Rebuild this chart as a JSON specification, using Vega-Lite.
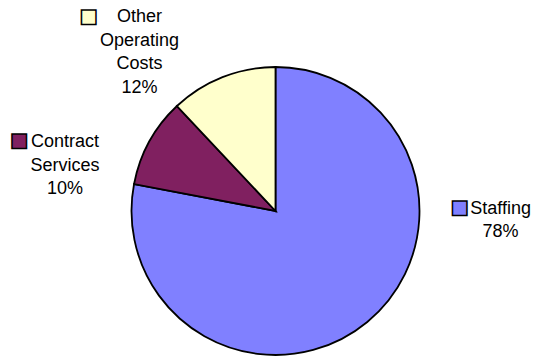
{
  "$schema": "https://vega.github.io/schema/vega-lite/v6.json",
  "width": 551,
  "height": 422,
  "autosize": "none",
  "padding": 0,
  "background": "white",
  "config": {"view": {"stroke": null}},
  "data": {"values": [
    {"category": "Staffing", "pct": 78, "idx": 1, "label": ["Staffing", "78%"]},
    {"category": "Contract Services", "pct": 10, "idx": 2, "label": ["Contract", "Services", "10%"]},
    {"category": "Other Operating Costs", "pct": 12, "idx": 3, "label": ["Other", "Operating", "Costs", "12%"]}
  ]},
  "encoding": {
    "theta": {"field": "pct", "type": "quantitative", "stack": true},
    "order": {"field": "idx", "type": "quantitative"}
  },
  "layer": [
    {
      "mark": {"type": "arc", "outerRadius": 144, "stroke": "black", "strokeWidth": 1.8},
      "encoding": {
        "color": {"field": "category", "type": "nominal", "legend": null,
          "scale": {"domain": ["Staffing", "Contract Services", "Other Operating Costs"], "range": ["#8080FF", "#802060", "#FFFFCC"]}}
      }
    },
    {
      "mark": {"type": "text", "radius": 175, "dx": 113.5, "dy": -137, "font": "Liberation Sans", "fontSize": 18, "lineHeight": 23.5, "align": "center", "baseline": "middle", "color": "black"},
      "encoding": {"text": {"condition": {"test": "datum.category === 'Staffing'", "field": "label"}, "value": ""}}
    },
    {
      "mark": {"type": "text", "radius": 175, "dx": -57.1, "dy": 15.8, "font": "Liberation Sans", "fontSize": 18, "lineHeight": 23.5, "align": "center", "baseline": "middle", "color": "black"},
      "encoding": {"text": {"condition": {"test": "datum.category === 'Contract Services'", "field": "label"}, "value": ""}}
    },
    {
      "mark": {"type": "text", "radius": 175, "dx": -71.6, "dy": -31, "font": "Liberation Sans", "fontSize": 18, "lineHeight": 23.5, "align": "center", "baseline": "middle", "color": "black"},
      "encoding": {"text": {"condition": {"test": "datum.category === 'Other Operating Costs'", "field": "label"}, "value": ""}}
    },
    {
      "mark": {"type": "text", "radius": 175, "dx": 72.5, "dy": -137.8, "font": "Liberation Sans", "fontSize": 30, "align": "center", "baseline": "middle", "fill": "#8080FF", "stroke": "black", "strokeWidth": 1.5},
      "encoding": {"text": {"condition": {"test": "datum.category === 'Staffing'", "value": "■"}, "value": ""}}
    },
    {
      "mark": {"type": "text", "radius": 175, "dx": -103.1, "dy": 14.8, "font": "Liberation Sans", "fontSize": 30, "align": "center", "baseline": "middle", "fill": "#802060", "stroke": "black", "strokeWidth": 1.5},
      "encoding": {"text": {"condition": {"test": "datum.category === 'Contract Services'", "value": "■"}, "value": ""}}
    },
    {
      "mark": {"type": "text", "radius": 175, "dx": -122.6, "dy": -30.8, "font": "Liberation Sans", "fontSize": 30, "align": "center", "baseline": "middle", "fill": "#FFFFCC", "stroke": "black", "strokeWidth": 1.5},
      "encoding": {"text": {"condition": {"test": "datum.category === 'Other Operating Costs'", "value": "■"}, "value": ""}}
    }
  ]
}
